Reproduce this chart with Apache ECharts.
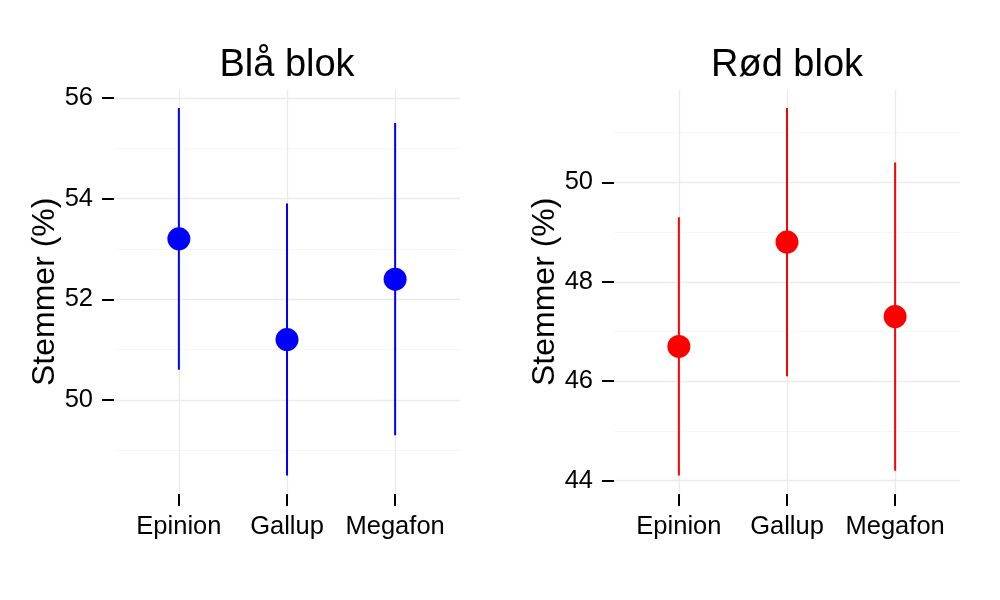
<!DOCTYPE html>
<html>
<head>
<meta charset="utf-8">
<script src="https://cdn.jsdelivr.net/npm/echarts@6/dist/echarts.min.js"></script>
<style>html,body{margin:0;padding:0;background:#fff;}#c{width:1000px;height:600px;}</style>
</head>
<body>
<div id="c"></div>
<script>
const categories = ['Epinion', 'Gallup', 'Megafon'];
const blaaEstimate = [53.2, 51.2, 52.4];
const blaaLow = [50.6, 48.5, 49.3];
const blaaHigh = [55.8, 53.9, 55.5];
const roedEstimate = [46.7, 48.8, 47.3];
const roedLow = [44.1, 46.1, 44.2];
const roedHigh = [49.3, 51.5, 50.4];
const blaaMajorTicks = [50, 52, 54, 56];
const blaaMinorTicks = [49, 51, 53, 55];
const roedMajorTicks = [44, 46, 48, 50];
const roedMinorTicks = [45, 47, 49, 51];
const panelTitles = ['Blå blok', 'Rød blok'];
const yTitle = 'Stemmer (%)';

const FONT = 'Liberation Sans, Arial, sans-serif';
const catPos = categories.map((c, i) => i + 1);

function expand(lo, hi) {
  const mn = Math.min(...lo), mx = Math.max(...hi);
  const pad = (mx - mn) * 0.05;
  return [mn - pad, mx + pad];
}

const panels = [
  {est: blaaEstimate, lo: blaaLow, hi: blaaHigh, major: blaaMajorTicks, minor: blaaMinorTicks, color: '#0000FF', left: 114},
  {est: roedEstimate, lo: roedLow, hi: roedHigh, major: roedMajorTicks, minor: roedMinorTicks, color: '#FF0000', left: 614}
];

const grid = [], xAxis = [], yAxis = [], series = [], graphic = [];
panels.forEach((p, k) => {
  grid.push({left: p.left, width: 346, top: 89.5, height: 404.5, containLabel: false});
  xAxis.push({
    type: 'value', gridIndex: k, min: 0.4, max: 3.6,
    axisLine: {show: false},
    splitLine: {show: false},
    axisTick: {show: true, customValues: catPos, length: 12, lineStyle: {color: '#000', width: 2}},
    axisLabel: {customValues: catPos, formatter: v => categories[Math.round(v) - 1] || '', color: '#000', fontSize: 25.5, fontFamily: FONT, margin: 20}
  });
  const ext = expand(p.lo, p.hi);
  yAxis.push({
    type: 'value', gridIndex: k, min: ext[0], max: ext[1],
    axisLine: {show: false},
    splitLine: {show: false},
    axisTick: {show: true, customValues: p.major, length: 12, lineStyle: {color: '#000', width: 2}},
    axisLabel: {customValues: p.major, color: '#000', fontSize: 25.5, fontFamily: FONT, margin: 21},
    name: yTitle, nameLocation: 'middle', nameGap: 52, nameRotate: 90,
    nameTextStyle: {color: '#000', fontSize: 32, fontFamily: FONT}
  });
  const gridLines = [];
  p.minor.forEach(v => gridLines.push({yAxis: v, lineStyle: {color: '#F6F6F6', width: 1, type: 'solid'}}));
  p.major.forEach(v => gridLines.push({yAxis: v, lineStyle: {color: '#EBEBEB', width: 1.3, type: 'solid'}}));
  catPos.forEach(v => gridLines.push({xAxis: v, lineStyle: {color: '#EBEBEB', width: 1.3, type: 'solid'}}));
  series.push({
    type: 'custom', xAxisIndex: k, yAxisIndex: k, z: 10,
    data: catPos.map((x, i) => [x, p.lo[i], p.hi[i]]),
    encode: {x: 0, y: [1, 2]},
    renderItem: (params, api) => {
      const a = api.coord([api.value(0), api.value(1)]);
      const b = api.coord([api.value(0), api.value(2)]);
      return {type: 'line', shape: {x1: a[0], y1: a[1], x2: b[0], y2: b[1]}, style: {stroke: p.color, lineWidth: 2}};
    },
    markLine: {silent: true, symbol: ['none', 'none'], label: {show: false}, animation: false, z: 1, data: gridLines},
    animation: false
  });
  series.push({
    type: 'scatter', xAxisIndex: k, yAxisIndex: k, z: 11,
    data: catPos.map((x, i) => [x, p.est[i]]),
    symbol: 'circle', symbolSize: 23,
    itemStyle: {color: p.color, opacity: 1},
    animation: false
  });
  graphic.push({
    type: 'text', x: p.left + 173, y: 65.5,
    style: {text: panelTitles[k], fill: '#000', font: '38px ' + FONT, textAlign: 'center', textVerticalAlign: 'middle', verticalAlign: 'middle'}
  });
});

const chart = echarts.init(document.getElementById('c'), null, {renderer: 'canvas'});
chart.setOption({
  backgroundColor: '#fff',
  animation: false,
  grid, xAxis, yAxis, series, graphic
});
</script>
</body>
</html>
